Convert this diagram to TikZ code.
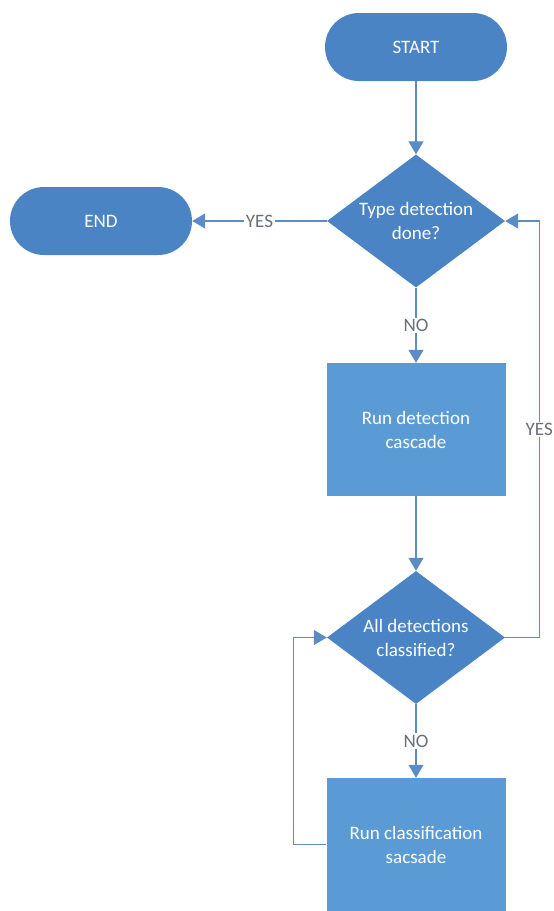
\documentclass[tikz,border=0pt]{standalone}
\usepackage{fontspec}
\setmainfont{Carlito}
\usepackage{xcolor}
\usepackage{tikz}
\usetikzlibrary{shapes.geometric,arrows.meta}
\definecolor{termblue}{HTML}{4A84C4}
\definecolor{boxblue}{HTML}{5B9BD5}
\definecolor{lineblue}{HTML}{5A8CC6}
\definecolor{labelgray}{HTML}{6A7079}

\begin{document}
\begin{tikzpicture}[x=1pt,y=1pt]
		\tikzstyle{every node}+=[inner sep=0pt, font=\fontsize{19}{24}\selectfont]
		\tikzstyle{term}=[fill=termblue, rounded corners=34pt, minimum width=182pt, minimum height=68pt, text=white]
		\tikzstyle{decide}=[diamond, fill=termblue, aspect=1.3, minimum width=178pt, minimum height=133pt, text=white, align=center]
		\tikzstyle{proc}=[fill=boxblue, minimum width=179pt, minimum height=133pt, text=white, align=center]
		\tikzstyle{flow}=[lineblue, line width=1.2pt, -{Triangle[length=13pt,width=15pt]}]
		\tikzstyle{lbl}=[fill=white, text=labelgray, inner sep=1.5pt]
		\useasboundingbox (0,0) rectangle (554,-911);
		\node [term] (start) at (416,-47) {START};
		\node [term] (end) at (101,-221) {END};
		\node [decide] (typedone) at (416,-221) {Type detection\\done?};
		\node [proc] (rundet) at (416,-429.5) {Run detection\\cascade};
		\node [decide] (alldone) at (416,-637.5) {All detections\\classified?};
		\node [proc] (runcls) at (416,-844.5) {Run classification\\sacsade};
		\draw [flow] (start) -- (typedone);
		\draw [flow] (typedone) -- node [lbl] {YES} (end);
		\draw [flow] (typedone) -- node [lbl] {NO} (rundet);
		\draw [flow] (rundet) -- (alldone);
		\draw [flow] (alldone.east) -- ++(34,0) |- node [lbl, pos=0.25] {YES} (typedone.east);
		\draw [flow] (alldone) -- node [lbl] {NO} (runcls);
		\draw [flow] (runcls.west) -- ++(-33,0) |- (alldone.west);
		\end{tikzpicture}
\end{document}
